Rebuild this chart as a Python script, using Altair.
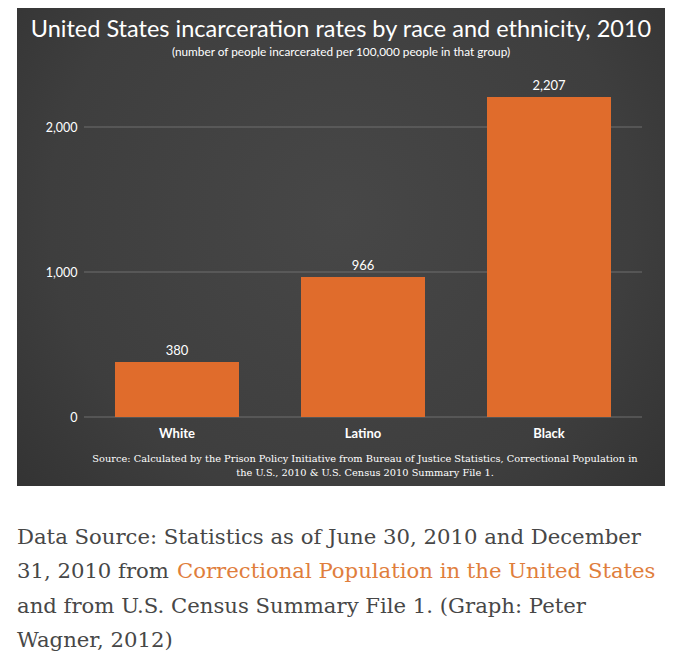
import altair as alt
import pandas as pd

# ---- data ----
groups = ["White", "Latino", "Black"]
rates = [380, 966, 2207]
y_ticks = [0, 1000, 2000]

title_text = "United States incarceration rates by race and ethnicity, 2010"
subtitle_text = "(number of people incarcerated per 100,000 people in that group)"
source_lines = [
    "Source: Calculated by the Prison Policy Initiative from Bureau of Justice Statistics, Correctional Population in",
    "the U.S., 2010 & U.S. Census 2010 Summary File 1.",
]
caption_lines = [
    "Data Source: Statistics as of June 30, 2010 and December",
    "31, 2010 from",
    "and from U.S. Census Summary File 1. (Graph: Peter",
    "Wagner, 2012)",
]
caption_link = "Correctional Population in the United States"

df = pd.DataFrame({"group": groups, "rate": rates})
grid_df = pd.DataFrame({"rate": y_ticks})
one = pd.DataFrame({"k": [0]})

BAR = "#E06C2C"
LINK = "#E07E3C"
SANS = "Lato"
SERIF = "DejaVu Serif"

bg = alt.Chart(one).mark_rect(
    color=alt.RadialGradient(
        gradient="radial",
        stops=[alt.GradientStop(color="#474747", offset=0),
               alt.GradientStop(color="#3e3e3e", offset=0.6),
               alt.GradientStop(color="#2e2e2e", offset=1)],
        x1=0.5, y1=0.45, r1=0, x2=0.5, y2=0.45, r2=0.75),
).encode(x=alt.value(-67), x2=alt.value(581), y=alt.value(-61), y2=alt.value(417))

yscale = alt.Scale(domain=[0, 2400], nice=False)
yaxis = alt.Axis(values=y_ticks, format=",.0f", labelColor="white",
                 labelFont=SANS, labelFontSize=12.5, labelPadding=7,
                 domain=False, ticks=False, grid=False, zindex=1)

grid = alt.Chart(grid_df).mark_rule(color="#6e6e6e", strokeWidth=1).encode(
    y=alt.Y("rate:Q", scale=yscale, axis=yaxis, title=None))

xenc = alt.X("group:N", sort=groups, title=None,
             scale=alt.Scale(paddingInner=1/3, paddingOuter=1/6),
             axis=alt.Axis(labelColor="white", labelFont=SANS, labelFontSize=13,
                           labelFontWeight="bold", labelAngle=0, labelPadding=10,
                           domain=False, ticks=False, zindex=1))
yenc = alt.Y("rate:Q", title=None, scale=yscale, axis=yaxis)

bars = alt.Chart(df).mark_bar(color=BAR).encode(x=xenc, y=yenc)
labels = alt.Chart(df).mark_text(color="white", font=SANS, fontSize=13,
                                 baseline="middle", dy=-11).encode(
    x=alt.X("group:N", sort=groups), y="rate:Q", text=alt.Text("rate:Q", format=",.0f"))

def txt(text, x, y, **kw):
    return alt.Chart(one).mark_text(text=text, **kw).encode(x=alt.value(x), y=alt.value(y))

title = txt(title_text, 257, -32, font=SANS, fontSize=23.5, color="white",
            align="center", baseline="alphabetic")
subtitle = txt(subtitle_text, 257, -17, font=SANS, fontSize=11.8, color="white",
               align="center", baseline="middle")
src1 = txt(source_lines[0], 281, 390, font=SERIF, fontSize=9.8, color="white",
           align="center", baseline="middle")
src2 = txt(source_lines[1], 281, 404, font=SERIF, fontSize=9.8, color="white",
           align="center", baseline="middle")

cap_kw = dict(font=SERIF, fontSize=21.2, color="#474747", align="left", baseline="alphabetic")
cap1 = txt(caption_lines[0], -67, 474.5, **cap_kw)
cap2 = txt(caption_lines[1], -67, 509, **cap_kw)
cap2b = txt(caption_link, 93, 509, **{**cap_kw, "color": LINK})
cap3 = txt(caption_lines[2], -67, 543.5, **cap_kw)
cap4 = txt(caption_lines[3], -67, 578, **cap_kw)

chart = alt.layer(bg, grid, bars, labels, title, subtitle, src1, src2,
                  cap1, cap2, cap2b, cap3, cap4).resolve_scale(y="shared").properties(
    width=558, height=348,
    padding={"left": 76, "top": 61, "right": 30, "bottom": 238},
    autosize=alt.AutoSizeParams(type="none"),
    background="white",
).configure_view(stroke=None)

chart.save("out.html", embed_options={"renderer": "svg", "actions": False})
